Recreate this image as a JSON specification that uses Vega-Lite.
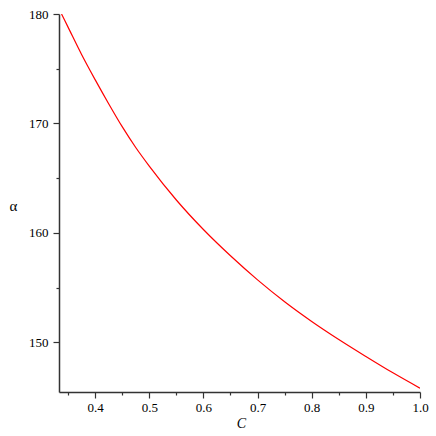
{
  "$schema": "https://vega.github.io/schema/vega-lite/v6.json",
  "width": 361,
  "height": 378,
  "autosize": {"type": "none"},
  "padding": {"left": 59, "top": 14, "right": 16, "bottom": 44},
  "background": "white",
  "config": {"view": {"stroke": null}},
  "data": {
    "values": [
      {"C": 0.338, "alpha": 180.0},
      {"C": 0.35, "alpha": 178.8},
      {"C": 0.375, "alpha": 176.3},
      {"C": 0.40, "alpha": 174.0},
      {"C": 0.425, "alpha": 171.8},
      {"C": 0.45, "alpha": 169.7},
      {"C": 0.475, "alpha": 167.8},
      {"C": 0.50, "alpha": 166.1},
      {"C": 0.55, "alpha": 163.0},
      {"C": 0.60, "alpha": 160.3},
      {"C": 0.65, "alpha": 157.9},
      {"C": 0.70, "alpha": 155.7},
      {"C": 0.75, "alpha": 153.7},
      {"C": 0.80, "alpha": 151.9},
      {"C": 0.85, "alpha": 150.25},
      {"C": 0.90, "alpha": 148.7},
      {"C": 0.95, "alpha": 147.2},
      {"C": 1.00, "alpha": 145.8}
    ]
  },
  "mark": {"type": "line", "color": "#ff0000", "strokeWidth": 1.2, "interpolate": "monotone", "clip": true},
  "encoding": {
    "x": {
      "field": "C",
      "type": "quantitative",
      "scale": {"domain": [0.3333, 1.0], "nice": false, "zero": false},
      "axis": {
        "title": "C",
        "titleFont": "Times New Roman, Liberation Serif, DejaVu Serif, serif",
        "titleFontStyle": "italic",
        "titleFontWeight": "normal",
        "titleFontSize": 14,
        "titleColor": "#000",
        "titleX": 182,
        "titleY": 31,
        "titleAlign": "center",
        "titleBaseline": "middle",
        "values": [0.35, 0.4, 0.45, 0.5, 0.55, 0.6, 0.65, 0.7, 0.75, 0.8, 0.85, 0.9, 0.95, 1.0],
        "labelExpr": "abs(datum.value*10 - round(datum.value*10)) < 0.01 ? format(datum.value, '.1f') : ''",
        "labelFont": "Times New Roman, Liberation Serif, DejaVu Serif, serif",
        "labelFontSize": 13,
        "labelColor": "#000",
        "labelPadding": 3,
        "labelFlush": false,
        "labelOverlap": false,
        "grid": false,
        "domainColor": "#333",
        "domainWidth": 1.5,
        "tickColor": "#333",
        "tickWidth": 1.2,
        "tickSize": {"condition": {"test": "abs(datum.value*10 - round(datum.value*10)) < 0.01", "value": 6}, "value": 3}
      }
    },
    "y": {
      "field": "alpha",
      "type": "quantitative",
      "scale": {"domain": [145.45, 180], "nice": false, "zero": false},
      "axis": {
        "title": "α",
        "titleFont": "Times New Roman, Liberation Serif, DejaVu Serif, serif",
        "titleFontWeight": "normal",
        "titleFontSize": 15,
        "titleColor": "#000",
        "titleAngle": 0,
        "titleX": -46,
        "titleY": 191,
        "titleAlign": "center",
        "titleBaseline": "middle",
        "values": [150, 155, 160, 165, 170, 175, 180],
        "labelExpr": "datum.value % 10 == 0 ? format(datum.value, 'd') : ''",
        "labelFont": "Times New Roman, Liberation Serif, DejaVu Serif, serif",
        "labelFontSize": 13,
        "labelColor": "#000",
        "labelPadding": 5,
        "labelFlush": false,
        "labelOverlap": false,
        "grid": false,
        "domainColor": "#333",
        "domainWidth": 1.5,
        "tickColor": "#333",
        "tickWidth": 1.2,
        "tickSize": {"condition": {"test": "datum.value % 10 == 0", "value": 6}, "value": 3}
      }
    }
  }
}
